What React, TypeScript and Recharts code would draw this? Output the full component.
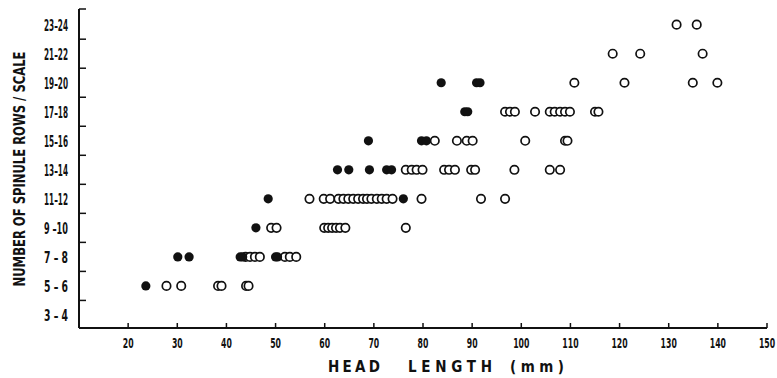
import React from 'react';
import { ScatterChart, Scatter, XAxis, YAxis } from 'recharts';

const FONT = "'DejaVu Sans Condensed', 'Liberation Sans', sans-serif";

// spinule-row classes, bottom to top (index = y value)
const rowLabels = ['3 – 4', '5 – 6', '7 – 8', '9 –10', '11–12', '13–14', '15–16', '17–18', '19–20', '21–22', '23–24'];

// head length (mm) of the open-circle specimens, one list per class
const openRows: number[][] = [
    [],
    [27.8, 30.8, 38.3, 39.0, 44.0, 44.5],
    [43.9, 44.8, 45.8, 46.8, 51.9, 52.9, 54.2],
    [49.1, 50.2, 59.9, 60.7, 61.5, 62.3, 63.1, 64.2, 76.5],
    [56.9, 59.8, 61.1, 62.8, 63.8, 64.8, 65.8, 66.8, 67.8, 68.6, 69.5, 70.6, 71.6, 72.6, 73.8, 79.7, 91.8, 96.7],
    [76.5, 77.7, 78.7, 79.9, 84.3, 85.3, 86.5, 89.8, 90.6, 98.6, 105.8, 107.9],
    [82.4, 86.9, 88.9, 90.1, 100.8, 108.9, 109.4],
    [96.7, 97.7, 98.7, 102.8, 105.8, 106.8, 107.9, 108.9, 109.9, 115.0, 115.7],
    [110.8, 121.0, 134.9, 139.9],
    [118.6, 124.2, 136.9],
    [131.6, 135.7],
];

// head length (mm) of the filled-circle specimens
const filledRows: number[][] = [
    [],
    [23.6],
    [30.1, 32.4, 42.8, 43.3, 50.0, 50.4],
    [46.0],
    [48.5, 76.0],
    [62.6, 64.9, 69.1, 72.6, 73.6],
    [68.9, 79.7, 80.7],
    [88.5, 89.1],
    [83.7, 90.9, 91.6],
    [],
    [],
];

const xTicks = [20, 30, 40, 50, 60, 70, 80, 90, 100, 110, 120, 130, 140, 150];
const yMin = -0.45;
const yMax = 10.54;

const toPoints = (rows: number[][]) =>
    rows.flatMap((row, i) => row.map((v) => ({ x: v, y: i })));

const openData = toPoints(openRows);
const filledData = toPoints(filledRows);

// label at each class, tick mark between classes and at the top end
const yTicks: number[] = [];
rowLabels.forEach((_, i) => {
    yTicks.push(i);
    if (i < rowLabels.length - 1) yTicks.push(i + 0.5);
});
yTicks.push(yMax);

const YTick = (props: any) => {
    const { x, y, payload } = props;
    const v = payload.value;
    if (Number.isInteger(v)) {
        const label = rowLabels[v];
        const len = label.length > 5 ? 26 : 24;
        return (
            <text x={x - 11 - len} y={y + 6} fontFamily={FONT} fontWeight="bold" fontSize={15.5} fill="#111"
                textLength={len} lengthAdjust="spacingAndGlyphs">
                {label}
            </text>
        );
    }
    return <line x1={x} x2={x + 7} y1={y} y2={y} stroke="#111" strokeWidth={1.5} />;
};

const XTick = (props: any) => {
    const { x, y, payload } = props;
    const s = String(payload.value);
    const len = s.length * 5.4;
    return (
        <g>
            <line x1={x} x2={x} y1={y} y2={y - 5} stroke="#111" strokeWidth={1.5} />
            <text x={x - len / 2} y={y + 20} fontFamily={FONT} fontWeight="bold" fontSize={14} fill="#111"
                textLength={len} lengthAdjust="spacingAndGlyphs">
                {s}
            </text>
        </g>
    );
};

const OpenDot = (props: any) => (
    <circle cx={props.cx} cy={props.cy} r={4.2} fill="#fff" stroke="#111" strokeWidth={1.7} />
);

const FilledDot = (props: any) => (
    <circle cx={props.cx} cy={props.cy} r={4.6} fill="#111" />
);

const titleWords = [
    { text: 'HEAD', x: 328, len: 52 },
    { text: 'LENGTH', x: 408, len: 84 },
    { text: '(mm)', x: 510, len: 54 },
];

const XTitle = () => (
    <g>
        {titleWords.map((w) => (
            <text key={w.text} x={w.x} y={372} fontFamily={FONT} fontWeight="bold" fontSize={15} fill="#111"
                textLength={w.len} lengthAdjust="spacing">
                {w.text}
            </text>
        ))}
    </g>
);

const YTitle = () => (
    <text x={25} y={169} transform="rotate(-90 25 169)" textAnchor="middle" fontFamily={FONT}
        fontWeight="bold" fontSize={15} fill="#111" textLength={235} lengthAdjust="spacingAndGlyphs">
        NUMBER OF SPINULE ROWS / SCALE
    </text>
);

export default function App() {
    return (
        <div style={{ position: 'absolute', left: 0, top: 0, width: 777, height: 378, background: '#fff' }}>
            <ScatterChart width={777} height={378} margin={{ top: 9, right: 10, bottom: 0, left: 0 }}>
                <XAxis
                    type="number"
                    dataKey="x"
                    domain={[10, 150]}
                    ticks={xTicks}
                    interval={0}
                    allowDataOverflow
                    height={50}
                    tickSize={0}
                    tickMargin={0}
                    tickLine={false}
                    axisLine={{ stroke: '#111', strokeWidth: 2 }}
                    tick={<XTick />}
                    label={<XTitle />}
                />
                <YAxis
                    type="number"
                    dataKey="y"
                    domain={[yMin, yMax]}
                    ticks={yTicks}
                    interval={0}
                    allowDataOverflow
                    width={79}
                    tickSize={0}
                    tickMargin={0}
                    tickLine={false}
                    axisLine={{ stroke: '#111', strokeWidth: 2 }}
                    tick={<YTick />}
                    label={<YTitle />}
                />
                <Scatter data={openData} shape={<OpenDot />} isAnimationActive={false} />
                <Scatter data={filledData} shape={<FilledDot />} isAnimationActive={false} />
            </ScatterChart>
        </div>
    );
}
